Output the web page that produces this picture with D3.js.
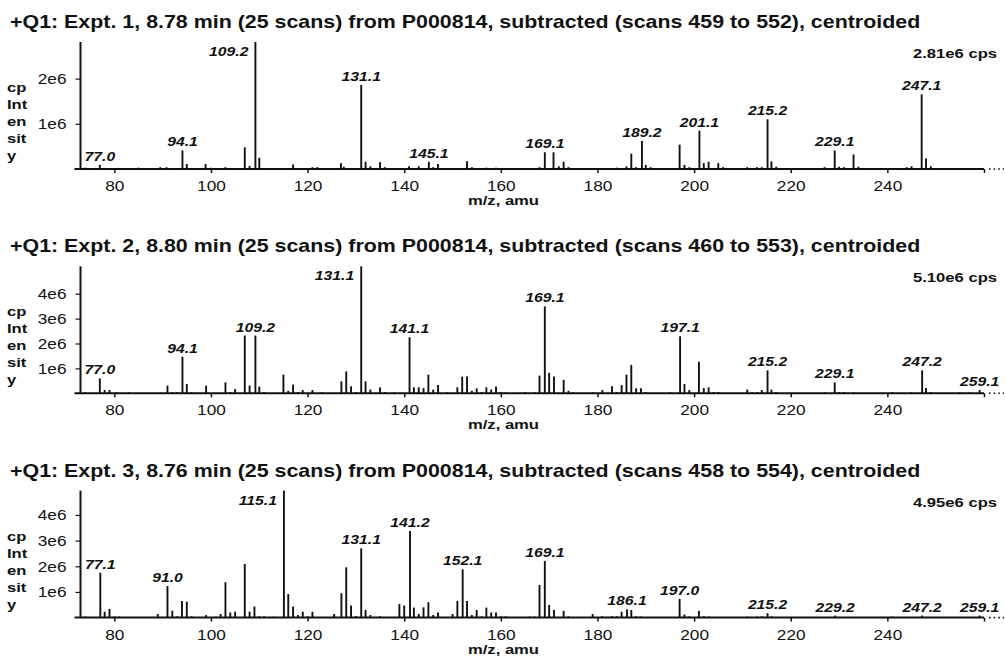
<!DOCTYPE html>
<html>
<head>
<meta charset="utf-8">
<script src="https://cdn.jsdelivr.net/npm/d3@7"></script>
<style>
  html, body { margin: 0; padding: 0; background: #fff; }
  svg { display: block; }
  text { font-family: "Liberation Sans", Arial, sans-serif; fill: #111; }
</style>
</head>
<body>
<svg id="chart" width="1005" height="656"></svg>
<script>
// ---- Spectrum data: m/z (amu) and intensity (x1e6 cps) ----
const expt1Title = "+Q1: Expt. 1, 8.78 min (25 scans) from P000814, subtracted (scans 459 to 552), centroided";
const expt1Max = 2.81;
const expt1Mz = [74, 77.0, 85, 89.5, 90.8, 94.1, 95, 98.9, 100, 103, 107, 108, 109.2, 110, 117, 121, 122,
  126.9, 127.5, 131.1, 132, 133, 135, 136, 141, 143, 145.1, 146, 147, 153, 154, 157, 159,
  168, 169.1, 170.9, 172, 173, 174, 184, 186, 187, 188, 189.2, 190, 191,
  197, 198, 199, 201.1, 202, 203, 205, 206, 211, 213, 214, 215.2, 216, 217,
  227, 229.1, 230, 231, 233, 234, 244, 245, 247.1, 248, 249];
const expt1Int = [0.03, 0.09, 0.03, 0.04, 0.04, 0.41, 0.11, 0.11, 0.03, 0.04, 0.48, 0.07, 2.81, 0.25, 0.10, 0.04, 0.04,
  0.13, 0.05, 1.86, 0.16, 0.06, 0.15, 0.04, 0.06, 0.06, 0.16, 0.04, 0.11, 0.17, 0.04, 0.03, 0.03,
  0.04, 0.37, 0.37, 0.06, 0.16, 0.04, 0.03, 0.06, 0.34, 0.04, 0.62, 0.09, 0.04,
  0.54, 0.09, 0.04, 0.85, 0.13, 0.16, 0.13, 0.04, 0.04, 0.04, 0.04, 1.10, 0.17, 0.05,
  0.04, 0.41, 0.05, 0.04, 0.32, 0.05, 0.04, 0.06, 1.65, 0.23, 0.06];
const expt1Labels = ["77.0", "94.1", "109.2", "131.1", "145.1", "169.1", "189.2", "201.1", "215.2", "229.1", "247.1"];
const expt1YTicks = [1, 2];

const expt2Title = "+Q1: Expt. 2, 8.80 min (25 scans) from P000814, subtracted (scans 460 to 553), centroided";
const expt2Max = 5.10;
const expt2Mz = [74, 77.0, 78, 79, 80.5, 83, 91, 92, 93, 94.1, 95, 96, 99, 103, 104, 105, 107, 108, 109.2, 110, 111,
  115, 116, 117, 118, 119, 121, 123, 127, 128, 129, 130, 131.1, 132, 133, 135, 136, 138,
  141.1, 142, 143, 144, 145, 146, 147, 149, 151, 152, 153, 154, 155, 156, 157, 158, 159, 160, 161,
  165, 167, 168, 169.1, 170, 171, 173, 174, 175, 179, 181, 183, 184, 185, 186, 187, 188, 189, 190,
  195, 197.1, 198, 199, 201, 202, 203, 204, 205, 211, 212, 213, 214, 215.2, 216, 217,
  227, 229.1, 230, 231, 233, 241, 245, 247.2, 248, 249, 255, 257, 259.1];
const expt2Int = [0.04, 0.60, 0.13, 0.13, 0.04, 0.04, 0.31, 0.05, 0.05, 1.47, 0.37, 0.05, 0.31, 0.44, 0.05, 0.17, 2.32, 0.31, 2.32, 0.27, 0.05,
  0.75, 0.10, 0.35, 0.05, 0.13, 0.13, 0.04, 0.48, 0.88, 0.28, 0.05, 5.10, 0.48, 0.15, 0.24, 0.05, 0.04,
  2.25, 0.24, 0.24, 0.21, 0.75, 0.15, 0.33, 0.04, 0.24, 0.67, 0.67, 0.10, 0.20, 0.05, 0.24, 0.15, 0.27, 0.05, 0.04,
  0.04, 0.04, 0.71, 3.49, 0.82, 0.67, 0.54, 0.10, 0.04, 0.04, 0.13, 0.28, 0.05, 0.33, 0.75, 1.14, 0.20, 0.20, 0.05,
  0.04, 2.29, 0.37, 0.13, 1.27, 0.21, 0.24, 0.05, 0.05, 0.15, 0.05, 0.05, 0.13, 0.92, 0.15, 0.05,
  0.04, 0.44, 0.05, 0.05, 0.04, 0.04, 0.04, 0.92, 0.21, 0.05, 0.04, 0.04, 0.13];
const expt2Labels = ["77.0", "94.1", "109.2", "131.1", "141.1", "169.1", "197.1", "215.2", "229.1", "247.2", "259.1"];
const expt2YTicks = [1, 2, 3, 4];

const expt3Title = "+Q1: Expt. 3, 8.76 min (25 scans) from P000814, subtracted (scans 458 to 554), centroided";
const expt3Max = 4.95;
const expt3Mz = [74, 77.1, 78, 79, 80, 81, 89, 91.0, 92, 93, 94, 95, 96, 99, 101, 102, 103, 104, 105, 107, 108, 109, 110, 111, 113,
  115.1, 116, 117, 118, 119, 120, 121, 125.5, 127, 128, 129, 130, 131.1, 132, 133, 135,
  139, 140, 141.2, 142, 143, 144, 145, 146, 147, 150, 151, 152.1, 153, 154, 155, 156, 157, 158, 159, 160, 161,
  166, 167, 168, 169.1, 170, 171, 173, 174, 179, 181, 183, 184, 185, 186.1, 187, 188, 189,
  197.0, 198, 199, 201, 202, 203, 211, 213, 214, 215.2, 216, 229.2, 241, 247.2, 259.1];
const expt3Int = [0.04, 1.75, 0.23, 0.34, 0.04, 0.04, 0.14, 1.23, 0.27, 0.05, 0.65, 0.62, 0.05, 0.10, 0.04, 0.14, 1.38, 0.20, 0.23, 2.09, 0.23, 0.43, 0.05, 0.05, 0.04,
  4.95, 0.92, 0.43, 0.10, 0.23, 0.05, 0.23, 0.14, 0.95, 1.96, 0.47, 0.06, 2.70, 0.30, 0.10, 0.05,
  0.53, 0.47, 3.38, 0.39, 0.14, 0.40, 0.60, 0.10, 0.20, 0.14, 0.65, 1.88, 0.65, 0.10, 0.30, 0.05, 0.39, 0.20, 0.20, 0.05, 0.05,
  0.04, 0.04, 1.27, 2.21, 0.49, 0.30, 0.26, 0.05, 0.14, 0.05, 0.05, 0.05, 0.23, 0.32, 0.30, 0.05, 0.04,
  0.73, 0.12, 0.05, 0.26, 0.05, 0.04, 0.04, 0.04, 0.05, 0.17, 0.05, 0.08, 0.04, 0.08, 0.08];
const expt3Labels = ["77.1", "91.0", "115.1", "131.1", "141.2", "152.1", "169.1", "186.1", "197.0", "215.2", "229.2", "247.2", "259.1"];
const expt3YTicks = [1, 2, 3, 4];

const xTicks = [80, 100, 120, 140, 160, 180, 200, 220, 240, 260];
const xTickLabels = ["80", "100", "120", "140", "160", "180", "200", "220", "240", ""];
const yAxisWords = ["cp", "Int", "en", "sit", "y"];
const xAxisTitle = "m/z, amu";

const spectra = [
  { title: expt1Title, max: expt1Max, mz: expt1Mz, inten: expt1Int, labels: expt1Labels, yTicks: expt1YTicks },
  { title: expt2Title, max: expt2Max, mz: expt2Mz, inten: expt2Int, labels: expt2Labels, yTicks: expt2YTicks },
  { title: expt3Title, max: expt3Max, mz: expt3Mz, inten: expt3Int, labels: expt3Labels, yTicks: expt3YTicks }
];

// ---- Layout ----
const SX = 1.23;             // horizontal stretch applied to text
const SX_TITLE = 1.21;
const panelStep = 224.3;
const firstTop = 42;
const plotH = 127;
const svg = d3.select("#chart");

const x = d3.scaleLinear().domain([73, 260]).range([80.5, 984]);

function stretchedText(g, tx, ty, str, sx = SX) {
  return g.append("text")
    .attr("transform", `translate(${tx},${ty}) scale(${sx},1)`)
    .text(str);
}

spectra.forEach((s, i) => {
  const top = firstTop + i * panelStep;
  const base = top + plotH;
  const y = d3.scaleLinear().domain([0, s.max]).range([base, top]);
  const g = svg.append("g");

  // title
  stretchedText(g, 10, top - 14, s.title, SX_TITLE)
    .attr("font-size", 17.7).attr("font-weight", "bold");

  // max intensity note
  stretchedText(g, 997, top + 16, `${s.max.toFixed(2)}e6 cps`)
    .attr("font-size", 13.5).attr("font-weight", "bold").attr("text-anchor", "end");

  // x axis
  const xAxis = d3.axisBottom(x).tickValues(xTicks)
    .tickFormat((d, k) => xTickLabels[k]).tickSize(4).tickSizeOuter(0);
  const gx = g.append("g").attr("transform", `translate(0,${base})`).call(xAxis);
  gx.select(".domain").remove();
  gx.selectAll(".tick line").attr("stroke", "#111").attr("stroke-width", 1.5);
  gx.selectAll(".tick text")
    .attr("y", 0).attr("dy", 0)
    .attr("transform", `translate(0,22) scale(${SX},1)`)
    .attr("font-size", 14).attr("font-family", "Liberation Sans, Arial, sans-serif")
    .attr("fill", "#111");
  g.append("line")
    .attr("x1", x(73) - 6).attr("x2", x(260))
    .attr("y1", base).attr("y2", base)
    .attr("stroke", "#111").attr("stroke-width", 2);
  g.append("line")
    .attr("x1", x(260) + 5).attr("x2", 1004)
    .attr("y1", base).attr("y2", base)
    .attr("stroke", "#111").attr("stroke-width", 1.6)
    .attr("stroke-dasharray", "1.6,3");

  stretchedText(g, 503.5, base + 36, xAxisTitle)
    .attr("font-size", 13.5).attr("font-weight", "bold").attr("text-anchor", "middle");

  // y axis
  const yAxis = d3.axisLeft(y).tickValues(s.yTicks)
    .tickFormat(d => `${d}e6`).tickSize(5).tickSizeOuter(0);
  const gy = g.append("g").attr("transform", `translate(${x(73)},0)`).call(yAxis);
  gy.select(".domain").remove();
  gy.selectAll(".tick line").attr("stroke", "#111").attr("stroke-width", 1.2);
  gy.selectAll(".tick text")
    .attr("x", 0).attr("dy", "0.35em")
    .attr("transform", `translate(-14,0) scale(${SX},1)`)
    .attr("font-size", 14).attr("font-family", "Liberation Sans, Arial, sans-serif")
    .attr("fill", "#111");
  g.append("line")
    .attr("x1", x(73)).attr("x2", x(73))
    .attr("y1", top).attr("y2", base)
    .attr("stroke", "#111").attr("stroke-width", 2);

  yAxisWords.forEach((w, k) => {
    stretchedText(g, 7, base - 9 - (yAxisWords.length - 1 - k) * 17, w)
      .attr("font-size", 13.5).attr("font-weight", "bold");
  });

  // centroided peaks
  const peaks = s.mz.map((m, k) => ({ mz: m, v: s.inten[k] }));
  g.append("g").selectAll("line").data(peaks).join("line")
    .attr("x1", d => x(d.mz)).attr("x2", d => x(d.mz))
    .attr("y1", base).attr("y2", d => y(d.v))
    .attr("stroke", "#111").attr("stroke-width", 1.9);

  // peak annotations
  s.labels.forEach(lab => {
    const m = +lab;
    const k = s.mz.indexOf(m);
    const v = s.inten[k];
    const atTop = v >= s.max * 0.97;
    stretchedText(g, atTop ? x(m) - 7 : x(m), atTop ? top + 14 : y(v) - 4, lab)
      .attr("font-size", 12.8).attr("font-weight", "bold").attr("font-style", "italic")
      .attr("text-anchor", atTop ? "end" : "middle");
  });
});
</script>
</body>
</html>
